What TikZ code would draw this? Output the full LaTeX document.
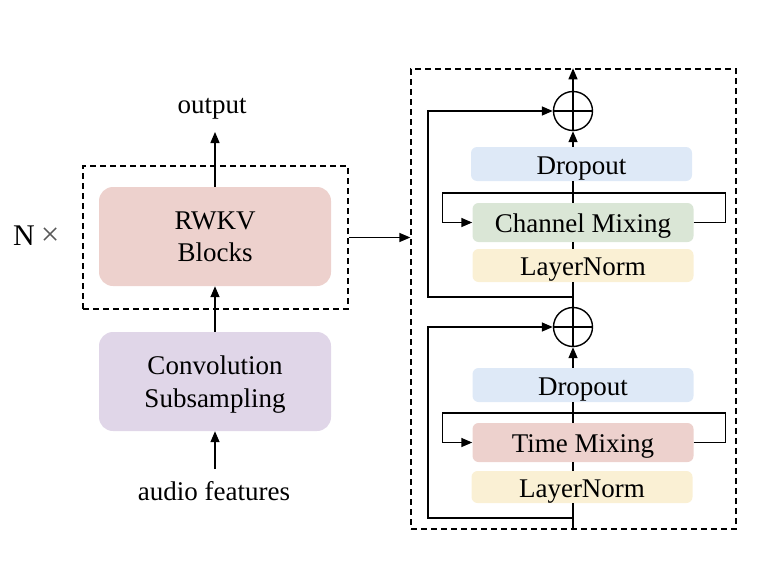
\documentclass[tikz,border=0pt]{standalone}
\usepackage{fontspec}
\setmainfont{Liberation Serif}
\usetikzlibrary{arrows.meta}
\definecolor{pinkc}{RGB}{237,209,205}
\definecolor{lavc}{RGB}{224,214,232}
\definecolor{bluec}{RGB}{222,233,247}
\definecolor{greenc}{RGB}{218,230,214}
\definecolor{yellowc}{RGB}{250,240,212}
\begin{document}
\begin{tikzpicture}[x=1pt,y=-1pt,
  font=\fontsize{27}{32.5}\selectfont,
  bigbox/.style={rounded corners=14pt, minimum width=232pt, minimum height=99pt, inner sep=0pt, align=center, text depth=0pt},
  smallbox/.style={rounded corners=6pt, minimum width=221pt, inner sep=0pt, text height=20pt, text depth=0pt},
  arr/.style={-{Triangle[length=11pt,width=9pt]}, line width=1.4pt},
  ln/.style={line width=1.4pt},
  dbox/.style={draw, dash pattern=on 6pt off 4pt, line width=1.3pt, inner sep=0pt},
  sumnode/.style={circle, draw, line width=1.4pt, minimum size=39pt, inner sep=0pt}]
\useasboundingbox (0,0) rectangle (774,570);

% left column
\node[bigbox, fill=pinkc] (rwkv) at (215,236.5) {RWKV\\Blocks};
\node[bigbox, fill=lavc] (conv) at (215,381.5) {Convolution\\Subsampling};
\node[anchor=base] (out) at (212,113) {output};
\node[anchor=base] (aud) at (214,500.5) {audio features};
\node[dbox, minimum width=265pt, minimum height=143pt] (nbox) at (215.5,237.5) {};
\node[anchor=base west, inner sep=0pt] (N) at (13,245) {\fontsize{30}{34}\selectfont N\hspace{6pt}\textcolor{black!65}{\fontsize{33}{34}\selectfont ×}};
\coordinate (outtip) at (215,132);
\coordinate (audtop) at (215,469);
\draw[arr] (rwkv.north) -- (outtip);
\draw[arr] (conv.north) -- (rwkv.south);
\draw[arr] (audtop) -- (conv.south);

% right column
\node[dbox, minimum width=325pt, minimum height=460pt] (rbox) at (573.5,299) {};
\draw[arr] (nbox.east) -- (nbox.east -| rbox.west);

\node[sumnode] (c1) at (573,111) {};
\node[sumnode] (c2) at (573,327) {};
\draw[ln] (c1.north) -- (c1.south);
\draw[ln] (c1.west) -- (c1.east);
\draw[ln] (c2.north) -- (c2.south);
\draw[ln] (c2.west) -- (c2.east);

\node[smallbox, fill=bluec, minimum height=34pt] (do1) at (581.5,164) {Dropout};
\node[smallbox, fill=greenc, minimum height=39pt] (cm) at (583,222.5) {Channel Mixing};
\node[smallbox, fill=yellowc, minimum height=33pt] (ln1) at (583,265.5) {LayerNorm};
\node[smallbox, fill=bluec, minimum height=34pt] (do2) at (583,385) {Dropout};
\node[smallbox, fill=pinkc, minimum height=39pt] (tm) at (583,442.5) {Time Mixing};
\node[smallbox, fill=yellowc, minimum height=32pt] (ln2) at (582,487) {LayerNorm};

\coordinate (bot) at (573,529);
\coordinate (s1) at (573,297);
\coordinate (s2) at (573,518);

% main path
\draw[ln] (bot) -- (c2 |- ln2.south);
\draw[ln] (c2 |- ln2.north) -- (c2 |- tm.south);
\draw[ln] (c2 |- tm.north) -- (c2 |- do2.south);
\draw[arr] (c2 |- do2.north) -- (c2.south);
\draw[ln] (c2.north) -- (c2 |- ln1.south);
\draw[ln] (c1 |- ln1.north) -- (c1 |- cm.south);
\draw[ln] (c1 |- cm.north) -- (c1 |- do1.south);
\draw[arr] (c1 |- do1.north) -- (c1.south);
\draw[arr] (c1.north) -- (c1 |- rbox.north);

% inner loops
\draw[arr] (cm.east) -- ++(32,0) -- ++(0,-29.5) -- ++(-283,0) -- ++(0,29.5) -- (cm.west);
\draw[arr] (tm.east) -- ++(32,0) -- ++(0,-29.5) -- ++(-283,0) -- ++(0,29.5) -- (tm.west);

% residual loops
\draw[arr] (s1) -- ++(-145,0) |- (c1.west);
\draw[arr] (s2) -- ++(-145,0) |- (c2.west);
\end{tikzpicture}
\end{document}
